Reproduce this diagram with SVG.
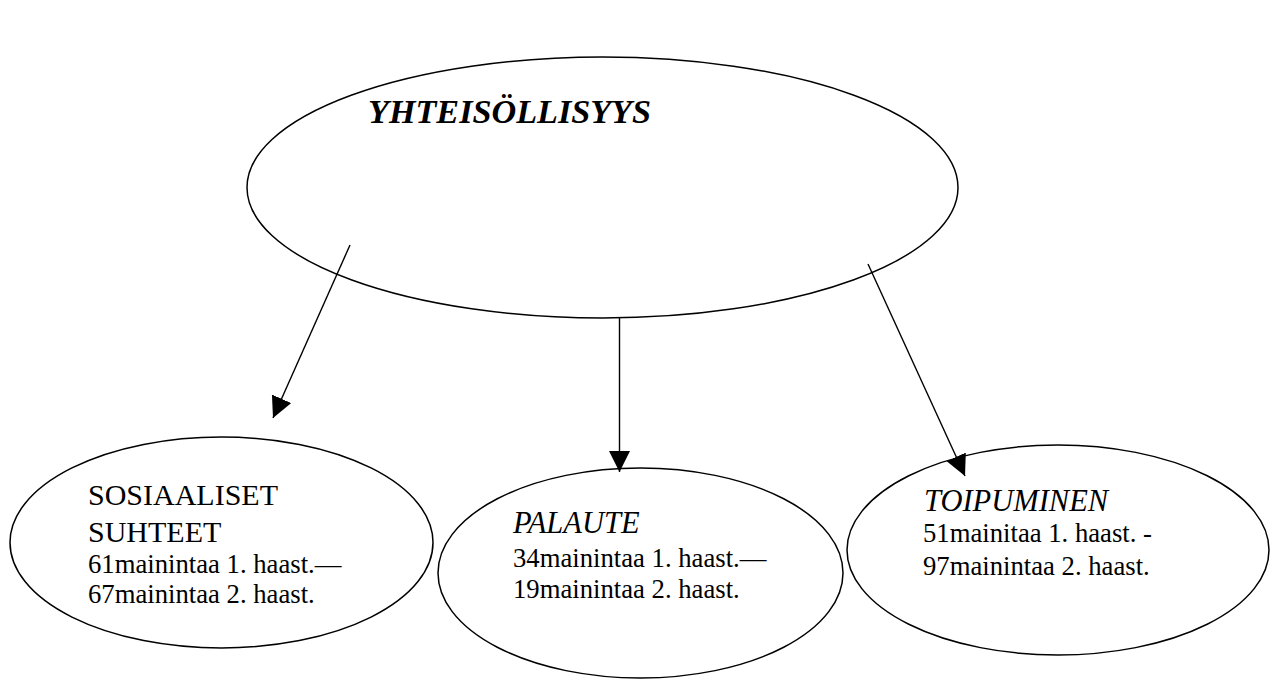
<svg xmlns="http://www.w3.org/2000/svg" width="1273" height="680" viewBox="0 0 1273 680">
  <style>
    .shape { fill: none; stroke: #000; stroke-width: 1.5; }
    .edge { fill: none; stroke: #000; stroke-width: 1.4; }
    text { font-family: "Liberation Serif", "Times New Roman", serif; fill: #000; }
    .title { font-size: 34px; font-weight: bold; font-style: italic; }
    .head { font-size: 30px; }
    .head-it { font-size: 30.5px; font-style: italic; }
    .body { font-size: 26.7px; }
  </style>
  <defs>
    <marker id="arrow" markerUnits="userSpaceOnUse" markerWidth="22" markerHeight="22" refX="21" refY="10.5" orient="auto">
      <path d="M0,0 L21,10.5 L0,21 z" fill="#000"/>
    </marker>
  </defs>
  <rect width="1273" height="680" fill="#fff"/>

  <g id="node-yhteisollisyys">
    <ellipse class="shape" cx="602.5" cy="187.5" rx="355.5" ry="130.5"/>
    <text class="title" x="368" y="123" textLength="283" lengthAdjust="spacingAndGlyphs">YHTEISÖLLISYYS</text>
  </g>

  <g id="node-sosiaaliset">
    <ellipse class="shape" cx="221.5" cy="542.5" rx="211.5" ry="105.5"/>
    <text class="head" x="88" y="505">SOSIAALISET</text>
    <text class="head" x="88" y="542">SUHTEET</text>
    <text class="body" x="88" y="573">61mainintaa 1. haast.—</text>
    <text class="body" x="88" y="603">67mainintaa 2. haast.</text>
  </g>

  <g id="node-palaute">
    <ellipse class="shape" cx="640.5" cy="573" rx="202.5" ry="105"/>
    <text class="head-it" x="513" y="533">PALAUTE</text>
    <text class="body" x="513" y="567">34mainintaa 1. haast.—</text>
    <text class="body" x="513" y="598">19mainintaa 2. haast.</text>
  </g>

  <g id="node-toipuminen">
    <ellipse class="shape" cx="1058" cy="550" rx="211" ry="105"/>
    <text class="head-it" x="924" y="511">TOIPUMINEN</text>
    <text class="body" x="923" y="542">51mainitaa 1. haast. -</text>
    <text class="body" x="923" y="575">97mainintaa 2. haast.</text>
  </g>

  <g id="connectors">
    <line class="edge" x1="350" y1="245" x2="273" y2="418" marker-end="url(#arrow)"/>
    <line class="edge" x1="619.5" y1="318" x2="619.5" y2="472" marker-end="url(#arrow)"/>
    <line class="edge" x1="868" y1="264" x2="965" y2="476" marker-end="url(#arrow)"/>
  </g>
</svg>
